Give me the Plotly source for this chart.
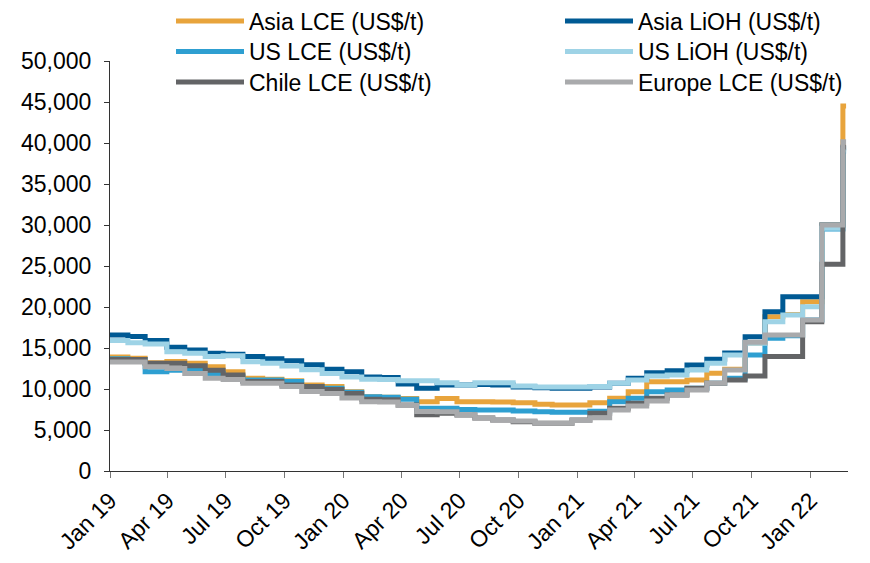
import plotly.graph_objects as go

dates = ["2019-01-01","2019-01-29","2019-02-25","2019-03-31","2019-04-28","2019-05-30","2019-06-27",
         "2019-07-28","2019-08-28","2019-09-27","2019-10-28","2019-11-29","2019-12-30","2020-01-30",
         "2020-02-27","2020-03-27","2020-04-25","2020-05-27","2020-06-27","2020-07-25","2020-08-22",
         "2020-09-23","2020-10-27","2020-11-23","2020-12-24","2021-01-21","2021-02-21","2021-03-22",
         "2021-04-20","2021-05-22","2021-06-22","2021-07-23","2021-08-20","2021-09-21","2021-10-22",
         "2021-11-19","2021-12-20","2022-01-19","2022-02-21","2022-02-26"]

asia_lce = [13900,13750,13200,13350,13150,12700,12100,11300,11200,11000,10500,10300,9650,9050,
            9000,8850,8450,8850,8450,8450,8400,8330,8150,8050,8050,8330,8860,9670,10890,10890,
            11100,11910,12400,15600,18820,19100,20650,30000,44500,44500]
asia_lioh = [16600,16400,15900,15100,14750,14350,14250,13950,13700,13450,12950,12400,12100,11450,
             11400,10600,10100,10500,10500,10550,10500,10250,10150,10100,10100,10250,10700,11300,
             11990,12240,12930,13620,14400,16380,19430,21260,21260,30000,39400,39400]
us_lce = [13700,13600,12100,12300,12300,11900,11500,11100,11100,10900,10300,10100,9600,9050,
          9000,8750,7650,7650,7500,7450,7440,7320,7230,7150,7150,7300,8450,8860,9670,9880,
          10080,10690,11300,14150,16180,16500,18400,29500,39000,39000]
us_lioh = [15900,15650,15500,14550,14350,13950,14050,13330,13130,12800,12350,11900,11450,11200,
           11150,11000,11000,10770,10500,10750,10770,10370,10240,10240,10240,10300,10690,11100,
           11590,11710,12320,13130,14150,15570,18210,19020,20040,29600,39150,39150]
chile_lce = [13600,13600,13150,13150,12850,12300,11700,10900,10900,10500,10300,9950,9450,8750,
             8700,8050,6850,7030,6830,6450,6220,6010,5810,5810,6220,7030,7640,8250,8860,9270,
             10080,10690,11100,11600,13950,13950,18200,25200,39500,39500]
europe_lce = [13300,13300,12700,12500,11900,11300,11150,10700,10700,10300,9700,9450,8900,8450,
              8400,8000,7250,7230,6850,6450,6220,6090,5810,5810,6150,6500,7440,7930,8550,9270,
              9880,10690,12320,15700,16600,16600,18400,30000,40150,40150]

series_names = ["Asia LCE (US$/t)","Asia LiOH (US$/t)","US LCE (US$/t)",
                "US LiOH (US$/t)","Chile LCE (US$/t)","Europe LCE (US$/t)"]
series_values = [asia_lce, asia_lioh, us_lce, us_lioh, chile_lce, europe_lce]
series_colors = ["#E8A43C","#005A94","#2E9FD1","#9ED3E6","#636466","#A9AAAC"]

tick_dates = ["2019-01-01","2019-04-01","2019-07-01","2019-10-01","2020-01-01","2020-04-01",
              "2020-07-01","2020-10-01","2021-01-01","2021-04-01","2021-07-01","2021-10-01","2022-01-01"]
tick_labels = ["Jan 19","Apr 19","Jul 19","Oct 19","Jan 20","Apr 20","Jul 20","Oct 20",
               "Jan 21","Apr 21","Jul 21","Oct 21","Jan 22"]

FONT = "Liberation Sans, Arial, sans-serif"
FS = 23

# legend grid: two columns, three rows (pixel positions in the 870x563 page)
legend_col_x = [171, 560]
legend_row_y = [21, 51.5, 82]

fig = go.Figure()
legend_layouts = {}
for i, (name, vals, col) in enumerate(zip(series_names, series_values, series_colors)):
    key = "legend" if i == 0 else f"legend{i+1}"
    fig.add_trace(go.Scatter(x=dates, y=vals, name=name, mode="lines", legend=key,
                             line=dict(color=col, width=5, shape="hv")))
    r, c = divmod(i, 2)
    legend_layouts[key] = dict(
        xref="container", yref="container",
        x=legend_col_x[c] / 870, y=1 - legend_row_y[r] / 563,
        xanchor="left", yanchor="middle", itemwidth=68,
        font=dict(family=FONT, size=FS, color="black"),
        bgcolor="rgba(0,0,0,0)")

fig.update_layout(
    width=870, height=563,
    margin=dict(l=110, r=22, t=61, b=92, autoexpand=False),
    paper_bgcolor="white", plot_bgcolor="white",
    font=dict(family=FONT, size=FS, color="black"),
    showlegend=True,
    xaxis=dict(type="date", range=["2019-01-01","2022-03-01"],
               tickvals=tick_dates, ticktext=tick_labels, tickangle=-45,
               showgrid=False, zeroline=False, showline=True, linecolor="#333333", linewidth=1,
               ticks="outside", ticklen=6, tickcolor="#777777",
               tickfont=dict(family=FONT, size=FS, color="black")),
    yaxis=dict(range=[0,50000], dtick=5000, tickformat=",", showgrid=False, zeroline=False,
               showline=True, linecolor="#333333", linewidth=1,
               ticks="outside", ticklen=5, tickcolor="#333333", ticklabelstandoff=8,
               tickfont=dict(family=FONT, size=FS, color="black")),
    **legend_layouts,
)

fig.write_html("out.html")
